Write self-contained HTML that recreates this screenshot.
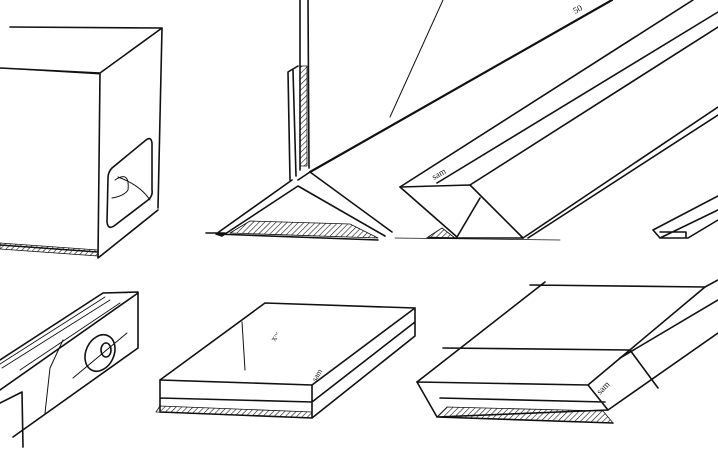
<!DOCTYPE html>
<html><head><meta charset="utf-8"><style>
html,body{margin:0;padding:0;background:#fff;}
svg{display:block}
</style></head><body>
<svg width="718" height="455" viewBox="0 0 718 455" xmlns="http://www.w3.org/2000/svg">
<defs>
<pattern id="h" width="4" height="4" patternUnits="userSpaceOnUse" patternTransform="rotate(45)"><line x1="0" y1="0" x2="0" y2="4" stroke="#111" stroke-width="1.2"/></pattern>
</defs>
<g fill="none" stroke="#111" stroke-width="1.6" stroke-linecap="round" stroke-linejoin="round">
<!-- subwoofer cube -->
<path d="M10 27 L162 28 M0 68 L100 73 L162 28 M162 28 L158 208 M100 73 L98 258 M98 258 L158 210 M0 245 L98 252"/>
<path d="M0 68 L100 74" stroke-width="1"/>
<polygon points="0,243 98,250 98,256 0,249" fill="url(#h)" stroke-width="0.8"/>
<path d="M112 168 Q108 172 108 178 L107 222 Q108 230 114 226 L148 200 Q153 196 152 190 L152 143 Q151 136 146 140 Z"/>
<path d="M115 180 Q130 170 128 190 Q124 196 112 198 M118 177 Q140 185 150 200" stroke-width="1"/>
<!-- stand -->
<path d="M300 0 L300 170 M308 0 L309 168"/>
<path d="M288 72 L290 180 M293 70 L296 176 M288 72 L298 66"/>
<rect x="300" y="66" width="7" height="100" fill="url(#h)" stroke-width="0.8"/>
<path d="M292 180 L216 234 L222 236 L298 186 L385 236 M298 180 L310 172 L392 232 M216 234 L378 240 M206 233 L225 233"/>
<polygon points="230,233 250,221 350,224 378,238" fill="url(#h)" stroke-width="0.8"/>
<!-- long bars -->
<path d="M310 172 L612 0" stroke-width="2.2"/>
<path d="M443 0 L390 117" stroke-width="1"/>
<path d="M400 187 L693 0 M437 183 L718 12 M470 185 L718 27 M523 238 L718 107 M528 238 L718 115"/>
<path d="M400 187 L470 185 L523 238 M400 187 L457 237 M427 238 L523 238 M457 237 L480 198"/>
<polygon points="428,237 442,228 455,238" fill="url(#h)" stroke-width="0.8"/>
<path d="M395 238 L560 240" stroke-width="0.8"/>
<!-- small right piece -->
<path d="M653 230 L718 196 M660 238 L718 210 M653 230 L660 238 L688 238 L718 220 M660 232 L686 232 L686 238"/>
<text x="434" y="180" font-family="Liberation Serif, serif" font-size="9" transform="rotate(-30 434 180)" fill="#111" stroke="none">sam</text>
<text x="575" y="14" font-family="Liberation Serif, serif" font-size="9" transform="rotate(-28 575 14)" fill="#111" stroke="none">50</text>
<!-- bottom-left bar -->
<path d="M103 293 L138 292 L138 348 L13 437 M103 293 L0 360 M138 293 L0 390 M0 403 L22 392 L23 447"/>
<path d="M0 364 L105 297 M2 368 L110 300 M20 370 L120 303" stroke-width="0.9"/>
<ellipse cx="100" cy="353" rx="14" ry="19" transform="rotate(25 100 353)"/>
<ellipse cx="106" cy="350" rx="5" ry="7"/>
<path d="M73 378 L127 333" stroke-width="1"/>
<path d="M63 340 L50 368 L45 413" stroke-width="1"/>
<!-- middle box -->
<path d="M160 380 L265 303 L415 308 L312 385 Z"/>
<path d="M160 380 L160 412 L312 418 L415 336 L415 308 M312 385 L312 418 M160 398 L312 402 L415 322"/>
<polygon points="156,412 160,406 312,412 312,418" fill="url(#h)" stroke-width="0.8"/>
<path d="M242 322 L245 370" stroke-width="1"/>
<text x="275" y="342" font-family="Liberation Serif, serif" font-size="9" fill="#111" stroke="none" transform="rotate(-60 275 342)">x~</text>
<text x="316" y="382" font-family="Liberation Serif, serif" font-size="8" fill="#111" stroke="none" transform="rotate(-60 316 382)">sam</text>
<!-- right box -->
<path d="M417 382 L545 282 M530 285 L705 287 L588 385 L417 382 M443 348 L630 350"/>
<path d="M417 382 L437 417 L608 410 L588 385 M437 417 L613 423 M608 410 L718 333 M705 287 L718 280 M440 398 L605 402 M620 358 L718 300 M630 350 L658 388"/>
<polygon points="437,417 447,407 603,411 613,423" fill="url(#h)" stroke-width="0.8"/>
<text x="600" y="395" font-family="Liberation Serif, serif" font-size="9" fill="#111" stroke="none" transform="rotate(-45 600 395)">sam</text>
</g>
</svg>
</body></html>
